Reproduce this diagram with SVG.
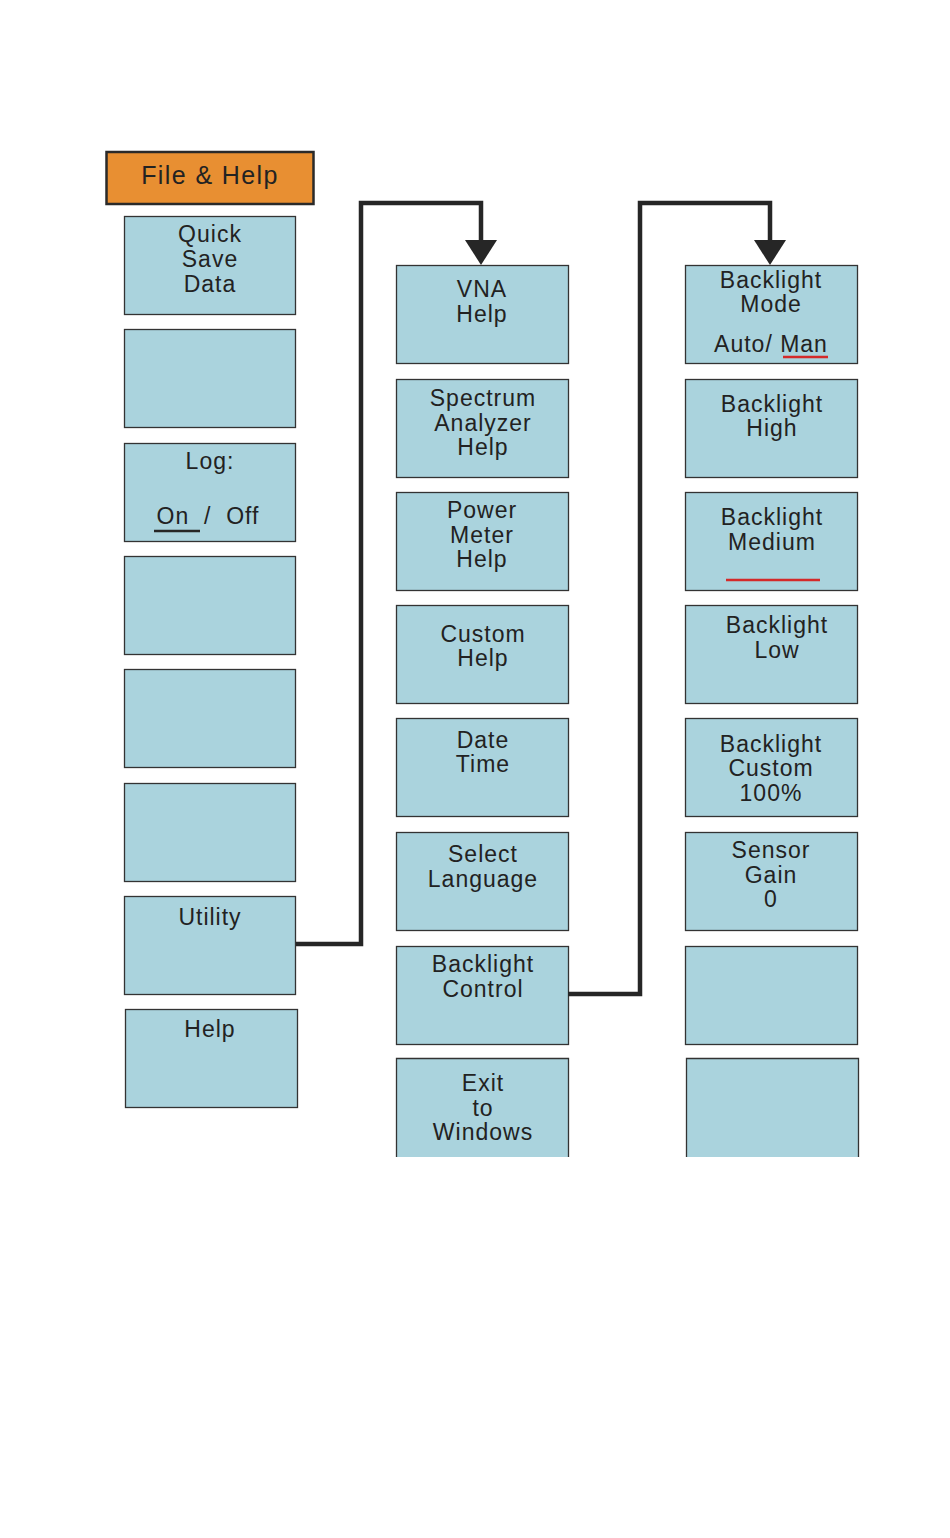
<svg xmlns="http://www.w3.org/2000/svg" width="950" height="1538" viewBox="0 0 950 1538">
<style>
.b{fill:#aad3dd;stroke:#333;stroke-width:1.3}
.t{font-family:"Liberation Sans",Arial,sans-serif;font-size:23px;fill:#222;text-anchor:middle;letter-spacing:1px}
.c{fill:none;stroke:#262626;stroke-width:4.5;stroke-linejoin:miter}
.ah{fill:#262626}
</style>
<rect width="950" height="1538" fill="#fff"/>
<g id="file-help">
<rect x="106.5" y="152" width="207" height="52" fill="#e88f32" stroke="#2a2a2a" stroke-width="2.5"/>
<text x="210" y="184" class="t" style="font-size:25px;letter-spacing:1.4px">File &amp; Help</text>
</g>
<g id="left">
<g id="quick-save"><rect class="b" x="124.5" y="216.5" width="171" height="98"/><text class="t" x="210" y="242">Quick</text><text class="t" x="210" y="267">Save</text><text class="t" x="210" y="292">Data</text></g>
<g id="l2"><rect class="b" x="124.5" y="329.5" width="171" height="98"/></g>
<g id="log"><rect class="b" x="124.5" y="443.5" width="171" height="98"/><text class="t" x="210" y="469">Log:</text><text class="t" x="208" y="524" xml:space="preserve">On  /  Off</text><line x1="154" y1="531" x2="200" y2="531" stroke="#262626" stroke-width="2.5"/></g>
<g id="l4"><rect class="b" x="124.5" y="556.5" width="171" height="98"/></g>
<g id="l5"><rect class="b" x="124.5" y="669.5" width="171" height="98"/></g>
<g id="l6"><rect class="b" x="124.5" y="783.5" width="171" height="98"/></g>
<g id="utility"><rect class="b" x="124.5" y="896.5" width="171" height="98"/><text class="t" x="210" y="925">Utility</text></g>
<g id="help"><rect class="b" x="125.5" y="1009.5" width="172" height="98"/><text class="t" x="210" y="1037">Help</text></g>
</g>
<g id="middle">
<g id="vna"><rect class="b" x="396.5" y="265.5" width="172" height="98"/><text class="t" x="482" y="297">VNA</text><text class="t" x="482" y="322">Help</text></g>
<g id="sa"><rect class="b" x="396.5" y="379.5" width="172" height="98"/><text class="t" x="483" y="406">Spectrum</text><text class="t" x="483" y="431">Analyzer</text><text class="t" x="483" y="455">Help</text></g>
<g id="pm"><rect class="b" x="396.5" y="492.5" width="172" height="98"/><text class="t" x="482" y="518">Power</text><text class="t" x="482" y="543">Meter</text><text class="t" x="482" y="567">Help</text></g>
<g id="custom"><rect class="b" x="396.5" y="605.5" width="172" height="98"/><text class="t" x="483" y="642">Custom</text><text class="t" x="483" y="666">Help</text></g>
<g id="date"><rect class="b" x="396.5" y="718.5" width="172" height="98"/><text class="t" x="483" y="748">Date</text><text class="t" x="483" y="772">Time</text></g>
<g id="lang"><rect class="b" x="396.5" y="832.5" width="172" height="98"/><text class="t" x="483" y="862">Select</text><text class="t" x="483" y="887">Language</text></g>
<g id="blc"><rect class="b" x="396.5" y="946.5" width="172" height="98"/><text class="t" x="483" y="972">Backlight</text><text class="t" x="483" y="997">Control</text></g>
<g id="exit"><path class="b" d="M396.5 1157V1058.5H568.5V1157"/><text class="t" x="483" y="1091">Exit</text><text class="t" x="483" y="1116">to</text><text class="t" x="483" y="1140">Windows</text></g>
</g>
<g id="right">
<g id="blmode"><rect class="b" x="685.5" y="265.5" width="172" height="98"/><text class="t" x="771" y="288">Backlight</text><text class="t" x="771" y="312">Mode</text><text class="t" x="771" y="352">Auto/ Man</text><line x1="783" y1="357" x2="828" y2="357" stroke="#d42a2a" stroke-width="2.5"/></g>
<g id="blhigh"><rect class="b" x="685.5" y="379.5" width="172" height="98"/><text class="t" x="772" y="412">Backlight</text><text class="t" x="772" y="436">High</text></g>
<g id="blmed"><rect class="b" x="685.5" y="492.5" width="172" height="98"/><text class="t" x="772" y="525">Backlight</text><text class="t" x="772" y="550">Medium</text><line x1="726" y1="580" x2="820" y2="580" stroke="#d42a2a" stroke-width="2.5"/></g>
<g id="bllow"><rect class="b" x="685.5" y="605.5" width="172" height="98"/><text class="t" x="777" y="633">Backlight</text><text class="t" x="777" y="658">Low</text></g>
<g id="blcustom"><rect class="b" x="685.5" y="718.5" width="172" height="98"/><text class="t" x="771" y="752">Backlight</text><text class="t" x="771" y="776">Custom</text><text class="t" x="771" y="801">100%</text></g>
<g id="sensor"><rect class="b" x="685.5" y="832.5" width="172" height="98"/><text class="t" x="771" y="858">Sensor</text><text class="t" x="771" y="883">Gain</text><text class="t" x="771" y="907">0</text></g>
<g id="r7"><rect class="b" x="685.5" y="946.5" width="172" height="98"/></g>
<g id="r8"><path class="b" d="M686.5 1157V1058.5H858.5V1157"/></g>
</g>
<g id="connectors">
<path class="c" d="M296 944H361V203H481V242"/>
<polygon class="ah" points="465,240 497,240 481,265"/>
<path class="c" d="M568 994H640V203H770V242"/>
<polygon class="ah" points="754,240 786,240 770,265"/>
</g>
</svg>
